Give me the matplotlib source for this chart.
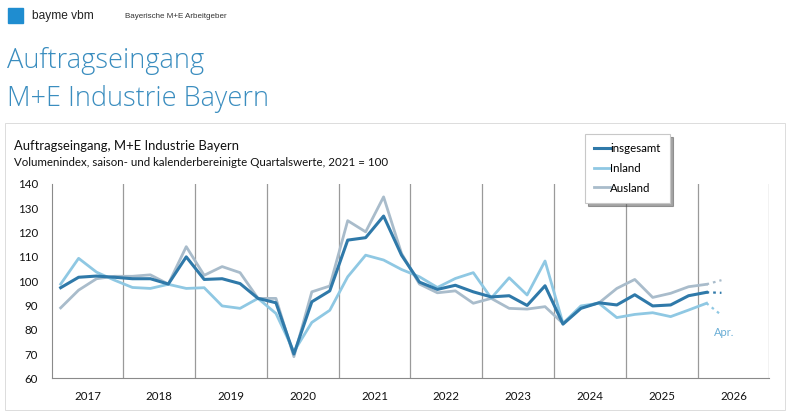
import matplotlib
matplotlib.use('Agg')
import matplotlib.pyplot as plt
from matplotlib.patches import Rectangle

# === Daten (Quartalswerte, 2021 = 100), Q1/2017 bis Q1/2026
jahre = ['2017', '2018', '2019', '2020', '2021', '2022', '2023', '2024', '2025', '2026']

insgesamt = [97.3, 101.6, 102.1, 101.6, 101.0, 101.0, 98.8, 110.0,
             100.7, 101.0, 99.0, 92.9, 91.1, 70.0, 91.5, 96.0,
             116.9, 117.9, 126.8, 110.7, 99.6, 96.6, 98.3, 95.6,
             93.5, 94.0, 90.0, 98.1, 82.3, 88.8, 91.1, 90.2,
             94.4, 89.8, 90.2, 94.0, 95.4]
inland = [98.8, 109.4, 103.7, 100.4, 97.4, 97.0, 98.7, 97.0,
          97.3, 89.8, 88.8, 92.9, 86.7, 71.0, 83.0, 88.0,
          101.8, 110.7, 108.7, 104.8, 101.8, 97.4, 101.1, 103.5,
          93.0, 101.4, 94.3, 108.3, 82.6, 89.8, 90.9, 85.0,
          86.3, 87.0, 85.4, 88.1, 90.9]
ausland = [89.0, 96.3, 101.0, 102.0, 102.0, 102.6, 98.8, 114.2,
           102.4, 106.0, 103.5, 92.9, 92.9, 68.9, 95.6, 98.0,
           124.9, 120.3, 134.7, 111.4, 98.8, 95.2, 96.0, 90.9,
           92.9, 88.8, 88.5, 89.5, 82.6, 89.2, 91.0, 97.0,
           100.7, 93.3, 95.0, 97.7, 98.7]

# Monatswert April 2026 (gepunktet)
april = {'insgesamt': 95.2, 'inland': 86.0, 'ausland': 100.4}

# x in Jahren ab 2017, Quartalsmitte
x_q = [(i + 0.5) / 4 for i in range(len(insgesamt))]
x_apr = 9 + 4 / 12

c_ges = '#2f79a9'
c_in = '#8fc8e3'
c_aus = '#a9bccb'
c_titel = '#3a8dbf'

fig = plt.figure(figsize=(8, 4.15), dpi=100)

# === Kopfzeile
fig.patches.append(Rectangle((8 / 800, 1 - 23 / 415), 15 / 800, 15 / 415,
                             transform=fig.transFigure, color='#1f8dd0'))
fig.text(32 / 800, 1 - 16 / 415, 'bayme vbm', fontsize=8.6, family='Liberation Sans',
         va='center', color='#222222')
fig.text(125 / 800, 1 - 16 / 415, 'Bayerische M+E Arbeitgeber', fontsize=5.8,
         family='Liberation Sans', va='center', color='#333333')
fig.text(7 / 800, 1 - 61 / 415, 'Auftragseingang', fontsize=19.6, family='Open Sans',
         fontweight='light', va='center', color=c_titel)
fig.text(7 / 800, 1 - 99 / 415, 'M+E Industrie Bayern', fontsize=19.5, family='Open Sans',
         fontweight='light', va='center', color=c_titel)

# Rahmen um die Grafik
fig.patches.append(Rectangle((5 / 800, 1 - 410 / 415), 780 / 800, 287 / 415,
                             transform=fig.transFigure, fill=False,
                             edgecolor='#dcdcdc', linewidth=0.7))

fig.text(14 / 800, 1 - 146 / 415, 'Auftragseingang, M+E Industrie Bayern',
         fontsize=9.4, family='Lato', va='center', color='#111111')
fig.text(14 / 800, 1 - 162 / 415,
         'Volumenindex, saison- und kalenderbereinigte Quartalswerte, 2021 = 100',
         fontsize=8.3, family='Lato', va='center', color='#111111')

# === Diagramm
ax = fig.add_axes([51.7 / 800, 1 - 378.3 / 415, (769.3 - 51.7) / 800, (378.3 - 184) / 415])

ax.plot(x_q, ausland, color=c_aus, lw=2.0, label='Ausland', zorder=3)
ax.plot(x_q, inland, color=c_in, lw=2.0, label='Inland', zorder=4)
ax.plot(x_q, insgesamt, color=c_ges, lw=2.2, label='insgesamt', zorder=5)

dots = (0, (1.2, 1.8))
ax.plot([x_q[-1], x_apr], [ausland[-1], april['ausland']], color=c_aus, lw=1.6,
        ls=dots, zorder=3)
ax.plot([x_q[-1], x_apr], [inland[-1], april['inland']], color=c_in, lw=1.6,
        ls=dots, zorder=4)
ax.plot([x_q[-1], x_apr], [insgesamt[-1], april['insgesamt']], color=c_ges, lw=1.6,
        ls=dots, zorder=5)
ax.text(x_apr + 0.04, april['inland'] - 7.2, 'Apr.', fontsize=8, family='Lato',
        color='#6aaed6', ha='center', va='center')

ax.set_xlim(0, 10)
ax.set_ylim(60, 140)
ax.set_yticks(range(60, 141, 10))
ax.set_xticks([i + 0.5 for i in range(len(jahre))])
ax.set_xticklabels(jahre)
for lab in ax.get_xticklabels() + ax.get_yticklabels():
    lab.set_family('Lato')
    lab.set_fontsize(8.3)
    lab.set_color('#111111')
ax.tick_params(length=0)
ax.tick_params(axis='x', pad=9)
ax.tick_params(axis='y', pad=10)

for j in range(1, 11):
    ax.axvline(j, color='#9a9a9a', lw=0.9, zorder=1)
for s in ['top', 'right']:
    ax.spines[s].set_visible(False)
ax.spines['left'].set_color('#8a8a8a')
ax.spines['bottom'].set_color('#8a8a8a')

handles, labels = ax.get_legend_handles_labels()
order = [2, 1, 0]
leg = fig.legend([handles[i] for i in order], [labels[i] for i in order],
                 loc='upper left', bbox_to_anchor=(585 / 800, 1 - 134 / 415),
                 prop={'family': 'Lato', 'size': 8.3}, handlelength=1.4,
                 handletextpad=0.0, labelspacing=0.75, borderpad=0.8,
                 borderaxespad=0.0,
                 frameon=True, fancybox=False, shadow=True, edgecolor='#c8c8c8')
leg.get_frame().set_linewidth(0.8)

plt.savefig('out.png', dpi=100)
